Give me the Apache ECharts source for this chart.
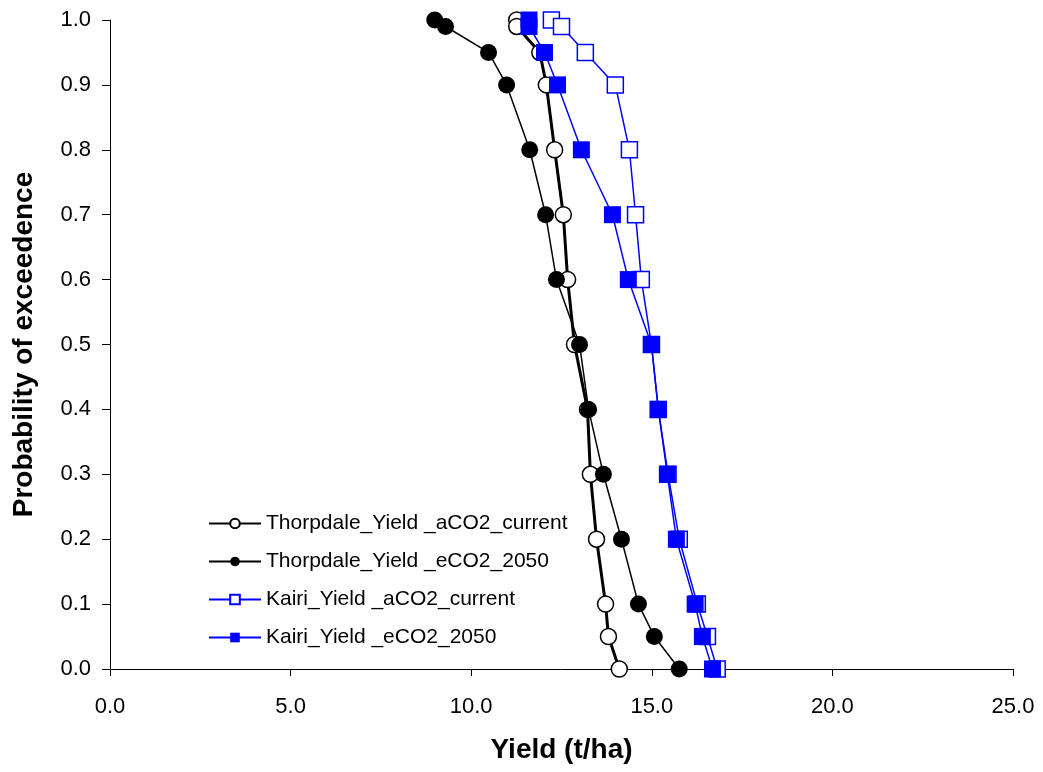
<!DOCTYPE html>
<html>
<head>
<meta charset="utf-8">
<script src="https://cdn.jsdelivr.net/npm/echarts@6/dist/echarts.min.js"></script>
<style>
  html, body { margin: 0; padding: 0; background: #fff; }
  #chart { width: 1043px; height: 772px; }
</style>
</head>
<body>
<div id="chart"></div>
<script>
// probability of exceedance levels (shared by every series)
var probLevels = [1.0, 0.99, 0.95, 0.9, 0.8, 0.7, 0.6, 0.5, 0.4, 0.3, 0.2, 0.1, 0.05, 0.0];

// yields (t/ha)
var thorpdaleCurrent = [11.26, 11.26, 11.9, 12.08, 12.31, 12.55, 12.67, 12.86, 13.22, 13.3, 13.47, 13.72, 13.8, 14.1];
var thorpdale2050 = [8.99, 9.29, 10.48, 10.98, 11.62, 12.06, 12.36, 13.0, 13.25, 13.66, 14.16, 14.63, 15.07, 15.76];
var kairiCurrent = [12.22, 12.5, 13.16, 13.99, 14.38, 14.55, 14.71, 14.99, 15.18, 15.45, 15.76, 16.26, 16.54, 16.81];
var kairi2050 = [11.6, 11.6, 12.03, 12.39, 13.05, 13.91, 14.35, 14.99, 15.18, 15.43, 15.68, 16.2, 16.4, 16.68];

var seriesNames = [
    'Thorpdale_Yield _aCO2_current',
    'Thorpdale_Yield _eCO2_2050',
    'Kairi_Yield _aCO2_current',
    'Kairi_Yield _eCO2_2050'
];

function pairs(xs) {
    return xs.map(function (x, i) {
        return [x, probLevels[i]];
    });
}

var font = 'Arial, "Liberation Sans", sans-serif';
var mychart = echarts.init(document.getElementById('chart'));

var option = {
    animation: false,
    textStyle: { fontFamily: font },
    grid: {
        left: 110,
        right: 30,
        top: 20,
        bottom: 103
    },
    legend: {
        orient: 'vertical',
        left: 203,
        top: 508,
        itemWidth: 52,
        itemHeight: 12,
        itemGap: 17,
        textStyle: { fontSize: 21, color: '#000', fontFamily: font },
        data: seriesNames
    },
    xAxis: {
        type: 'value',
        min: 0,
        max: 25,
        interval: 5,
        name: 'Yield (t/ha)',
        nameLocation: 'middle',
        nameGap: 67,
        nameTextStyle: { fontSize: 28, fontWeight: 'bold', color: '#000' },
        axisLine: { lineStyle: { color: '#000', width: 1 } },
        axisTick: { inside: false, length: 7, lineStyle: { color: '#000' } },
        axisLabel: {
            fontSize: 22,
            color: '#000',
            margin: 27,
            formatter: function (v) { return v.toFixed(1); }
        },
        splitLine: { show: false }
    },
    yAxis: {
        type: 'value',
        min: 0,
        max: 1,
        interval: 0.1,
        name: 'Probability of exceedence',
        nameLocation: 'middle',
        nameGap: 72,
        nameTextStyle: { fontSize: 28, fontWeight: 'bold', color: '#000' },
        axisLine: { show: true, lineStyle: { color: '#000', width: 1 } },
        axisTick: { show: true, inside: false, length: 8, lineStyle: { color: '#000' } },
        axisLabel: {
            fontSize: 22,
            color: '#000',
            margin: 19,
            formatter: function (v) { return v.toFixed(1); }
        },
        splitLine: { show: false }
    },
    series: [
        {
            name: seriesNames[0],
            type: 'line',
            data: pairs(thorpdaleCurrent),
            symbol: 'circle',
            symbolSize: 16,
            itemStyle: { color: '#fff', borderColor: '#000', borderWidth: 1.5 },
            lineStyle: { color: '#000', width: 3 },
            z: 3
        },
        {
            name: seriesNames[1],
            type: 'line',
            data: pairs(thorpdale2050),
            symbol: 'circle',
            symbolSize: 17,
            itemStyle: { color: '#000' },
            lineStyle: { color: '#000', width: 1.5 },
            z: 4
        },
        {
            name: seriesNames[2],
            type: 'line',
            data: pairs(kairiCurrent),
            symbol: 'rect',
            symbolSize: 16,
            itemStyle: { color: '#fff', borderColor: '#0000ff', borderWidth: 1.5 },
            lineStyle: { color: '#0000ff', width: 1.5 },
            z: 2
        },
        {
            name: seriesNames[3],
            type: 'line',
            data: pairs(kairi2050),
            symbol: 'rect',
            symbolSize: 17,
            itemStyle: { color: '#0000ff' },
            lineStyle: { color: '#0000ff', width: 1.5 },
            z: 5
        }
    ]
};

mychart.setOption(option);
window.addEventListener('resize', function () {
    mychart && mychart.resize();
});
</script>
</body>
</html>
